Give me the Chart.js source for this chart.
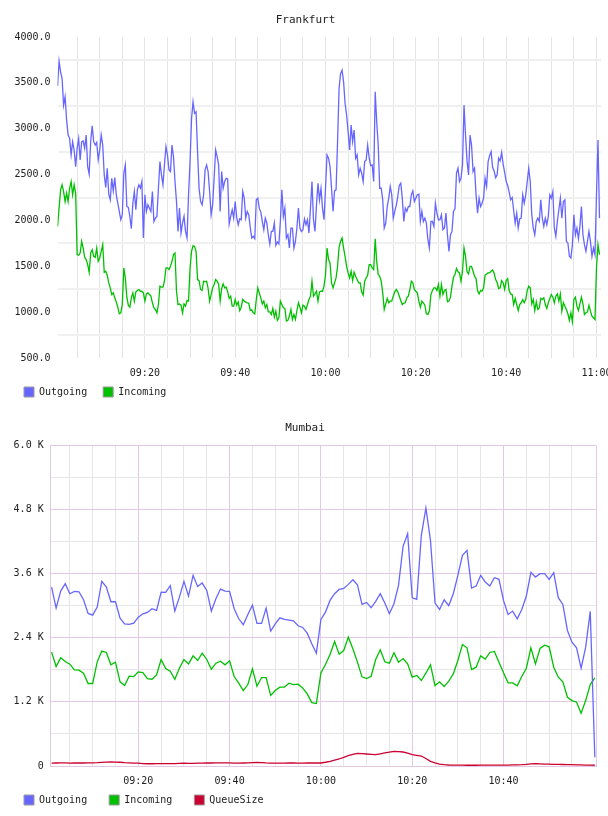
<!DOCTYPE html>
<html>
<head>
<meta charset="utf-8">
<title>Frankfurt / Mumbai</title>
<script src="https://cdn.jsdelivr.net/npm/chart.js@4.4.1/dist/chart.umd.min.js"></script>
<style>
  html, body { margin: 0; background: #fff; overflow: hidden; }
  canvas { position: absolute; left: 0; }
  #frankfurt { top: 0; }
  #mumbai { top: 407px; }
</style>
</head>
<body>
<canvas id="frankfurt" width="608" height="416"></canvas>
<canvas id="mumbai" width="608" height="423"></canvas>
<script>
var FONT = 'DejaVu Sans Mono';
var OUT_COLOR = '#6666ff';
var IN_COLOR = '#00c000';
var QUEUE_COLOR = '#cc0033';

// Frankfurt: one sample every 20 s, starting 09:00:40 (minutes of the day)
var frankfurtStart = 540 + 40 / 60;
var frankfurtStep = 20 / 60;
var frankfurtOutgoing = [
  3467, 3736, 3620, 3547, 3257, 3348, 3094, 2931, 2895, 2714, 2859, 2768, 2587,
  2786, 2895, 2659, 2859, 2866, 2786, 2931, 2587, 2504, 2859, 3033, 2859, 2822, 2851, 2659,
  2768, 2931, 2822, 2496, 2359, 2569, 2286, 2225, 2460, 2322, 2467, 2279, 2188, 2098, 2007,
  2062, 2514, 2605, 2152, 2141, 2044, 1910, 2188, 2315, 2116, 2333, 2388, 2351, 2424, 1808,
  2279, 2098, 2170, 2134, 2098, 2315, 1989, 2025, 2044, 2351, 2641, 2496, 2388, 2605, 2804,
  2714, 2551, 2533, 2822, 2696, 2424, 2207, 1880, 2134, 1862, 1971, 2044, 1880, 1808, 2279,
  2641, 3112, 3293, 3167, 3185, 2750, 2351, 2207, 2170, 2279, 2551, 2605, 2533, 2315, 2062,
  2170, 2460, 2768, 2696, 2605, 2098, 2533, 2351, 2424, 2460, 2453, 1960, 2044, 2116, 2025,
  2207, 2033, 1953, 2018, 2007, 2315, 2243, 2025, 2098, 2062, 1924, 1808, 1826, 1801, 2225,
  2243, 2134, 2091, 1989, 1899, 2025, 1971, 1844, 1743, 1880, 1880, 1971, 1728, 1765, 1743,
  1989, 2333, 2044, 2134, 1808, 1844, 1699, 1917, 1917, 1699, 1772, 1917, 2134, 1917, 1880,
  1899, 2018, 1953, 2007, 1862, 2134, 2424, 2007, 1880, 2170, 2406, 2225, 2351, 2134, 2007,
  2351, 2714, 2678, 2587, 2351, 2098, 2322, 2333, 2859, 3438, 3601, 3638, 3511, 3275, 3149,
  2967, 2768, 3040, 2859, 2986, 2678, 2714, 2496, 2569, 2515, 2424, 2641, 2659, 2822, 2678,
  2598, 2605, 2424, 3402, 3076, 2822, 2351, 2351, 2225, 1917, 1971, 2152, 2243, 2370, 2279,
  2025, 2098, 2163, 2261, 2381, 2406, 2243, 1989, 2134, 2098, 2152, 2152, 2279, 2322, 2207,
  2243, 2279, 2286, 1989, 2098, 1989, 2025, 1971, 1790, 1699, 1989, 1989, 1935, 2188, 2080,
  2007, 2007, 2062, 1899, 1917, 2080, 1844, 1663, 1844, 1880, 2098, 2127, 2515, 2569, 2424,
  2460, 2605, 3257, 2931, 2649, 2496, 2931, 2822, 2533, 2569, 2279, 2080, 2243, 2152, 2188,
  2243, 2460, 2370, 2641, 2707, 2750, 2576, 2540, 2467, 2496, 2678, 2649, 2743, 2612, 2525,
  2424, 2381, 2308, 2225, 2250, 2105, 1971, 2080, 1917, 2018, 2025, 2279, 2188, 2279, 2424,
  2569, 2424, 2062, 1917, 1844, 1989, 2025, 1989, 2225, 2025, 1935, 2025, 1953, 2044, 2279,
  2243, 2315, 1917, 1826, 1989, 2116, 2243, 2025, 2207, 2225, 1772, 1754, 1609, 1591, 1736,
  2062, 1844, 1917, 1801, 1935, 2152, 1844, 1736, 1663, 1772, 1880, 1772, 1609, 1699, 1627,
  2279, 2877, 2025
];
var frankfurtIncoming = [
  1935, 2134, 2333, 2388, 2315, 2207, 2297, 2207, 2351, 2424, 2279, 2388, 2297,
  1627, 1620, 1645, 1772, 1699, 1598, 1573, 1518, 1435, 1645, 1681, 1609, 1598, 1699, 1554,
  1591, 1663, 1736, 1435, 1446, 1403, 1319, 1265, 1192, 1210, 1156, 1109, 1054, 982, 993,
  1083, 1482, 1373, 1163, 1076, 1054, 1156, 1210, 1120, 1221, 1236, 1247, 1228, 1228, 1210,
  1120, 1199, 1210, 1192, 1174, 1102, 1047, 1029, 993, 1083, 1283, 1272, 1272, 1337, 1482,
  1482, 1464, 1500, 1554, 1627, 1645, 1228, 1083, 1090, 1076, 993, 1090, 1065, 1127, 1120,
  1482, 1663, 1725, 1717, 1663, 1355, 1344, 1247, 1236, 1337, 1330, 1337, 1258, 1120, 1192,
  1265, 1301, 1355, 1337, 1301, 1120, 1258, 1308, 1265, 1272, 1221, 1149, 1174, 1065, 1065,
  1138, 1076, 1112, 1018, 1054, 1138, 1120, 1109, 1102, 1098, 1018, 1025, 993, 982, 1138,
  1265, 1210, 1156, 1090, 1120, 1047, 1083, 1004, 1004, 975, 1040, 946, 1011, 910, 939,
  1120, 1083, 1047, 1040, 902, 910, 957, 1029, 920, 975, 920, 1018, 1102, 1054, 993,
  1076, 1065, 1029, 1083, 1138, 1174, 1337, 1174, 1199, 1228, 1120, 1221, 1228, 1228, 1283,
  1410, 1699, 1573, 1536, 1319, 1265, 1319, 1373, 1500, 1707, 1772, 1808, 1699, 1609, 1500,
  1428, 1373, 1446, 1344, 1435, 1391, 1355, 1319, 1319, 1221, 1185, 1337, 1373, 1403, 1518,
  1518, 1482, 1464, 1801, 1554, 1410, 1391, 1337, 1210, 1029, 1090, 1149, 1102, 1120, 1120,
  1174, 1221, 1247, 1221, 1174, 1127, 1083, 1098, 1102, 1156, 1174, 1243, 1337, 1319, 1247,
  1228, 1210, 1120, 1054, 1120, 1102, 1076, 982, 975, 1011, 1192, 1236, 1265, 1265, 1236,
  1301, 1174, 1301, 1192, 1236, 1247, 1112, 1120, 1163, 1283, 1380, 1410, 1475, 1439, 1428,
  1337, 1446, 1699, 1609, 1439, 1417, 1500, 1500, 1446, 1391, 1366, 1236, 1199, 1236, 1228,
  1265, 1403, 1417, 1428, 1428, 1446, 1460, 1424, 1355, 1323, 1258, 1265, 1344, 1319, 1247,
  1344, 1366, 1236, 1199, 1192, 1083, 1149, 1083, 1018, 1083, 1102, 1138, 1102, 1138, 1236,
  1283, 1265, 1090, 1138, 1018, 1112, 1029, 1047, 1149, 1138, 1156, 1083, 1040, 1102, 1149,
  1192, 1163, 1102, 1174, 1199, 1120, 1199, 1011, 1102, 1065, 1029, 982, 910, 993, 895,
  1138, 1163, 1065, 1018, 1090, 1163, 1090, 975, 993, 1004, 1076, 1011, 957, 939, 920,
  1482, 1736, 1627
];

// Mumbai: one sample per minute, 09:01 .. 11:00
var mumbaiStart = 541;
var mumbaiStep = 1;
var mumbaiOutgoing = [
  3350, 2956, 3275, 3412, 3225, 3269, 3262, 3112, 2856, 2825,
  2975, 3456, 3350, 3075, 3075, 2769, 2662, 2650, 2675, 2787,
  2850, 2875, 2944, 2912, 3256, 3250, 3375, 2900, 3162, 3456,
  3181, 3569, 3362, 3425, 3287, 2900, 3131, 3312, 3275, 3269,
  2944, 2756, 2644, 2837, 3012, 2669, 2669, 2956, 2525, 2662,
  2775, 2744, 2731, 2719, 2625, 2594, 2487, 2287, 2112,
  2744, 2881, 3100, 3225, 3306, 3325, 3400, 3487, 3394, 3025,
  3062, 2962, 3081, 3225, 3050, 2850, 3037, 3381, 4112, 4350,
  3150, 3119, 4319, 4831, 4225, 3050, 2931, 3112, 3000, 3225,
  3569, 3944, 4037, 3331, 3369, 3569, 3444, 3369, 3525, 3494,
  3100, 2837, 2900, 2756, 2931, 3181, 3625, 3537, 3600, 3600,
  3494, 3619, 3150, 3025, 2537, 2319, 2212, 1831, 2225, 2894,
  162
];
var mumbaiIncoming = [
  2131, 1862, 2025, 1956, 1906, 1800, 1794, 1737, 1544, 1544,
  1950, 2150, 2125, 1894, 1944, 1575, 1506, 1681, 1675, 1762,
  1750, 1637, 1625, 1706, 1994, 1825, 1775, 1625, 1831, 1994,
  1912, 2062, 1975, 2112, 1994, 1812, 1925, 1962, 1894, 1969,
  1675, 1550, 1412, 1525, 1819, 1494, 1656, 1656, 1319, 1412,
  1475, 1475, 1550, 1525, 1531, 1462, 1350, 1187, 1169,
  1744, 1900, 2087, 2331, 2094, 2162, 2412, 2194, 1944, 1669,
  1637, 1681, 1994, 2175, 1950, 1925, 2119, 1944, 2012, 1912,
  1662, 1694, 1600, 1737, 1894, 1506, 1575, 1487, 1587, 1725,
  1975, 2275, 2212, 1806, 1850, 2062, 2000, 2125, 2144, 1944,
  1744, 1556, 1556, 1500, 1675, 1831, 2212, 1912, 2200, 2262,
  2231, 1850, 1662, 1575, 1287, 1225, 1194, 987, 1225, 1525,
  1650
];
var mumbaiQueue = [
  55, 56, 58, 57, 55, 56, 56, 56, 57, 58,
  62, 68, 72, 75, 74, 70, 62, 58, 55, 52,
  45, 42, 42, 43, 44, 45, 44, 45, 48, 52,
  50, 48, 52, 55, 56, 56, 57, 58, 60, 58,
  55, 54, 56, 58, 62, 66, 64, 58, 55, 52,
  52, 54, 56, 56, 55, 55, 56, 57, 56,
  56, 70, 87, 108, 131, 162, 194, 218, 237, 232,
  225, 218, 212, 228, 244, 260, 275, 270, 262, 240,
  212, 200, 187, 140, 87, 60, 37, 26, 19, 16,
  15, 15, 14, 14, 14, 15, 15, 16, 16, 17,
  18, 18, 20, 22, 25, 30, 38, 44, 40, 36,
  34, 32, 30, 28, 26, 24, 22, 20, 18, 16,
  14
];

// axis ticks (minutes of the day / values)
var frankfurtXTicks = [545, 550, 555, 560, 565, 570, 575, 580, 585, 590, 595, 600,
  605, 610, 615, 620, 625, 630, 635, 640, 645, 650, 655, 660];
var mumbaiXTicks = [545, 550, 555, 560, 565, 570, 575, 580, 585, 590, 595, 600,
  605, 610, 615, 620, 625, 630, 635, 640, 645, 650, 655];
var timeLabels = ['09:20', '09:40', '10:00', '10:20', '10:40', '11:00'];
var frankfurtYTicks = [500, 750, 1000, 1250, 1500, 1750, 2000, 2250, 2500, 2750,
  3000, 3250, 3500, 3750, 4000];
var mumbaiYTicks = [0, 600, 1200, 1800, 2400, 3000, 3600, 4200, 4800, 5400, 6000];

function clock(m) {
  var h = Math.floor(m / 60 + 1e-6);
  var mm = Math.round(m - h * 60);
  return (h < 10 ? '0' : '') + h + ':' + (mm < 10 ? '0' : '') + mm;
}

function series(start, step, values) {
  var pts = [];
  for (var i = 0; i < values.length; i++) {
    pts.push({ x: start + i * step, y: values[i] });
  }
  return pts;
}

function line(label, color, start, step, values) {
  return {
    label: label,
    data: series(start, step, values),
    borderColor: color,
    backgroundColor: color,
    borderWidth: 1.3,
    pointRadius: 0,
    fill: false,
    tension: 0
  };
}

function fixedTicks(list) {
  return function (scale) {
    scale.ticks = list.map(function (v) { return { value: v }; });
  };
}

function timeLabel(v) {
  var t = clock(v);
  return timeLabels.indexOf(t) >= 0 ? t : '';
}

function legendItems(chart) {
  return chart.data.datasets.map(function (ds, i) {
    return {
      text: ds.label,
      fillStyle: ds.borderColor,
      strokeStyle: '#999999',
      lineWidth: 1,
      fontColor: '#222222',
      datasetIndex: i
    };
  });
}

// right edge of the Mumbai frame
var frameEdge = {
  id: 'frameEdge',
  beforeDatasetsDraw: function (chart, args, opts) {
    if (!opts.color) return;
    var a = chart.chartArea;
    var ctx = chart.ctx;
    var x = Math.round(a.right) + 0.5;
    ctx.save();
    ctx.strokeStyle = opts.color;
    ctx.lineWidth = 1;
    ctx.beginPath();
    ctx.moveTo(x, a.top);
    ctx.lineTo(x, a.bottom);
    ctx.stroke();
    ctx.restore();
  }
};

// pulls the legend up so it sits right under the time labels
var legendLift = {
  id: 'legendLift',
  afterLayout: function (chart, args, opts) {
    if (chart.legend && opts.by) {
      chart.legend.top -= opts.by;
      chart.legend.bottom -= opts.by;
    }
  }
};

var tickFont = { family: FONT, size: 10 };

var frankfurtConfig = {
  type: 'line',
  data: {
    datasets: [
      line('Outgoing', OUT_COLOR, frankfurtStart, frankfurtStep, frankfurtOutgoing),
      line('Incoming', IN_COLOR, frankfurtStart, frankfurtStep, frankfurtIncoming)
    ]
  },
  plugins: [legendLift],
  options: {
    responsive: false,
    animation: false,
    layout: { padding: { left: 8, right: 5, top: 0, bottom: 0 } },
    plugins: {
      title: {
        display: true,
        text: 'Frankfurt',
        color: '#222222',
        font: { family: FONT, size: 11, weight: 'normal' },
        padding: { top: 13.8, bottom: 10 }
      },
      legend: {
        position: 'bottom',
        align: 'start',
        labels: {
          boxWidth: 10,
          boxHeight: 10,
          padding: 16,
          color: '#222222',
          font: tickFont,
          generateLabels: legendItems
        }
      },
      legendLift: { by: 9 },
      tooltip: { enabled: false }
    },
    scales: {
      x: {
        type: 'linear',
        min: 540.65,
        max: 661,
        afterBuildTicks: fixedTicks(frankfurtXTicks),
        afterFit: function (s) { s.height = 22; s.paddingLeft = 0; s.paddingRight = 7; },
        grid: { color: '#e4e4e4', lineWidth: 1, drawTicks: false },
        border: { display: false },
        ticks: {
          autoSkip: false,
          maxRotation: 0,
          padding: 9,
          color: '#222222',
          font: tickFont,
          callback: timeLabel
        }
      },
      y: {
        type: 'linear',
        min: 500,
        max: 4000,
        afterBuildTicks: fixedTicks(frankfurtYTicks),
        afterFit: function (s) { s.width = 49.5; },
        grid: {
          drawTicks: false,
          lineWidth: 2,
          color: function (c) { return c.tick.value % 500 ? '#f0f0f0' : 'rgba(0,0,0,0)'; }
        },
        border: { display: false },
        ticks: {
          autoSkip: false,
          padding: 7,
          color: '#222222',
          font: tickFont,
          callback: function (v) { return v % 500 ? '' : v.toFixed(1); }
        }
      }
    }
  }
};

var PINK = '#e2c8e2';
var GREY = '#e6e6e6';

var mumbaiConfig = {
  type: 'line',
  data: {
    datasets: [
      line('Outgoing', OUT_COLOR, mumbaiStart, mumbaiStep, mumbaiOutgoing),
      line('Incoming', IN_COLOR, mumbaiStart, mumbaiStep, mumbaiIncoming),
      line('QueueSize', QUEUE_COLOR, mumbaiStart, mumbaiStep, mumbaiQueue)
    ]
  },
  plugins: [frameEdge, legendLift],
  options: {
    responsive: false,
    animation: false,
    layout: { padding: { left: 2, right: 0, top: 0, bottom: 0 } },
    plugins: {
      title: {
        display: true,
        text: 'Mumbai',
        color: '#222222',
        font: { family: FONT, size: 11, weight: 'normal' },
        padding: { top: 14.4, bottom: 10.9 }
      },
      legend: {
        position: 'bottom',
        align: 'start',
        labels: {
          boxWidth: 10,
          boxHeight: 10,
          padding: 22,
          color: '#222222',
          font: tickFont,
          generateLabels: legendItems
        }
      },
      legendLift: { by: 15 },
      tooltip: { enabled: false },
      frameEdge: { color: PINK }
    },
    scales: {
      x: {
        type: 'linear',
        min: 540.81,
        max: 660.26,
        afterBuildTicks: fixedTicks(mumbaiXTicks),
        afterFit: function (s) { s.height = 22; s.paddingLeft = 0; s.paddingRight = 12; },
        grid: {
          lineWidth: 1,
          drawTicks: false,
          color: function (c) { return c.tick.value % 20 === 0 ? PINK : GREY; }
        },
        border: { display: true, color: PINK, width: 1 },
        ticks: {
          autoSkip: false,
          maxRotation: 0,
          padding: 9.5,
          color: '#222222',
          font: tickFont,
          callback: timeLabel
        }
      },
      y: {
        type: 'linear',
        min: 0,
        max: 6000,
        afterBuildTicks: fixedTicks(mumbaiYTicks),
        afterFit: function (s) { s.width = 48.7; },
        grid: {
          lineWidth: 1,
          drawTicks: false,
          color: function (c) { return c.tick.value % 1200 === 0 ? PINK : GREY; }
        },
        border: { display: true, color: PINK, width: 1 },
        ticks: {
          autoSkip: false,
          padding: 7,
          color: '#222222',
          font: tickFont,
          callback: function (v) {
            if (v % 1200) return '';
            return v === 0 ? '0' : (v / 1000).toFixed(1) + ' K';
          }
        }
      }
    }
  }
};

window.onload = function () {
  new Chart(document.getElementById('frankfurt').getContext('2d'), frankfurtConfig);
  new Chart(document.getElementById('mumbai').getContext('2d'), mumbaiConfig);
};
</script>
</body>
</html>
